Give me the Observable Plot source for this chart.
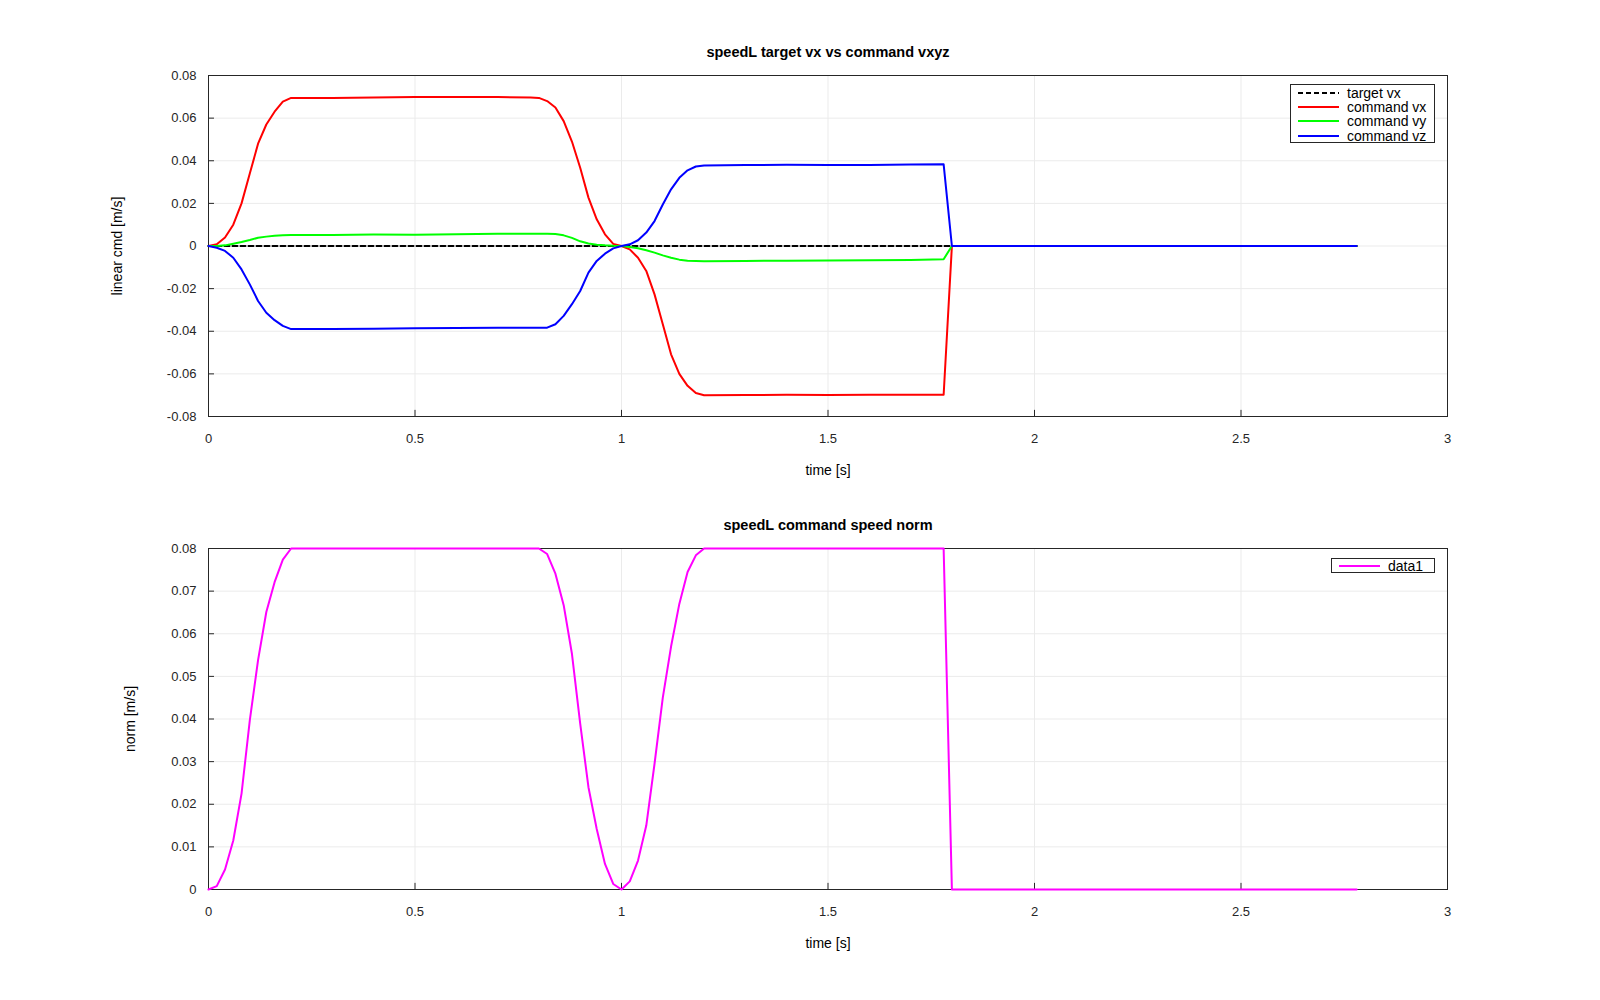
<!DOCTYPE html>
<html>
<head>
<meta charset="utf-8">
<script src="https://cdn.jsdelivr.net/npm/d3@7"></script>
<script src="https://cdn.jsdelivr.net/npm/@observablehq/plot@0.6"></script>
<style>
  body { margin: 0; background: #fff; }
  #root { position: relative; width: 1600px; height: 1000px; background: #fff; font-family: "Liberation Sans", Arial, sans-serif; overflow: hidden; }
  #root svg.panel { position: absolute; left: 0; }
  .legend { position: absolute; border: 1px solid #262626; background: #fff; font-size: 14px; color: #000; box-sizing: border-box; padding: 1px 0; }
  .legend .row { display: flex; align-items: center; height: 14.2px; padding-left: 7px; }
  .legend .row svg { width: 41px; height: 14px; margin-right: 8px; flex: none; }
  .legend .row span { line-height: 14px; white-space: nowrap; }
</style>
</head>
<body>
<div id="root"></div>
<script>
// ---- data ----
const time = [
  0, 0.02, 0.04, 0.06, 0.08, 0.10, 0.12, 0.14, 0.16, 0.18, 0.20,
  0.30, 0.40, 0.50, 0.60, 0.70, 0.78,
  0.80, 0.82, 0.84, 0.86, 0.88, 0.90, 0.92, 0.94, 0.96, 0.98, 1.00,
  1.02, 1.04, 1.06, 1.08, 1.10, 1.12, 1.14, 1.16, 1.18, 1.20,
  1.30, 1.40, 1.50, 1.60, 1.70, 1.78,
  1.80, 2.78
];
const targetTime = [0, 2.78];
const targetVx = [0, 0];
const commandVx = [
  0, 0.0008, 0.004, 0.010, 0.020, 0.034, 0.048, 0.057, 0.063, 0.0677, 0.0695,
  0.0695, 0.0697, 0.0699, 0.0699, 0.0699, 0.0697,
  0.0695, 0.068, 0.065, 0.0586, 0.049, 0.0367, 0.0227, 0.0125, 0.0055, 0.001, 0,
  -0.0016, -0.0055, -0.0117, -0.0227, -0.0367, -0.0508, -0.060, -0.0656, -0.069, -0.0700,
  -0.0699, -0.0698, -0.0699, -0.0698, -0.0698, -0.0698,
  0, 0
];
const commandVy = [
  0, 0, 0.0003, 0.0011, 0.0019, 0.0028, 0.0039, 0.0044, 0.0048, 0.0050, 0.0052,
  0.0052, 0.0054, 0.0053, 0.0055, 0.0057, 0.0058,
  0.0058, 0.0058, 0.0056, 0.0050, 0.0038, 0.0022, 0.0012, 0.0006, 0.0003, 0.0001, 0,
  -0.0005, -0.0011, -0.0020, -0.0031, -0.0044, -0.0055, -0.0064, -0.0069, -0.0070, -0.0072,
  -0.0070, -0.0069, -0.0068, -0.0067, -0.0066, -0.0062,
  0, 0
];
const commandVz = [
  0, -0.0008, -0.0023, -0.0055, -0.011, -0.018, -0.0258, -0.0313, -0.0348, -0.0375, -0.0390,
  -0.0389, -0.0388, -0.0386, -0.0385, -0.0384, -0.0384,
  -0.0383, -0.0383, -0.0367, -0.0328, -0.0273, -0.0211, -0.0125, -0.0070, -0.0036, -0.0011, 0,
  0.0008, 0.0027, 0.0063, 0.0117, 0.0195, 0.0266, 0.0320, 0.0355, 0.0373, 0.0378,
  0.0380, 0.0381, 0.0380, 0.0380, 0.0382, 0.0383,
  0, 0
];
const speedNorm = [
  0, 0.0008, 0.0047, 0.0115, 0.0225, 0.0397, 0.0538, 0.0651, 0.0721, 0.0774, 0.0800,
  0.0800, 0.0800, 0.0800, 0.0800, 0.0800, 0.0800,
  0.0800, 0.0787, 0.0741, 0.0667, 0.0553, 0.0389, 0.0240, 0.0142, 0.0060, 0.0013, 0,
  0.0019, 0.0068, 0.0150, 0.0295, 0.0450, 0.0570, 0.0670, 0.0745, 0.0784, 0.0800,
  0.0800, 0.0800, 0.0800, 0.0800, 0.0800, 0.0800,
  0, 0
];
const xTicks = [0, 0.5, 1, 1.5, 2, 2.5, 3];
const yTicks1 = [-0.08, -0.06, -0.04, -0.02, 0, 0.02, 0.04, 0.06, 0.08];
const yTicks2 = [0, 0.01, 0.02, 0.03, 0.04, 0.05, 0.06, 0.07, 0.08];
const legend1 = ["target vx", "command vx", "command vy", "command vz"];
const legend2 = ["data1"];

const fmt = d => String(d);

function toRows(xs, ys) { return xs.map((x, i) => ({x, y: ys[i]})); }

function panel({series, yDomain, yTicks, title, ylabel, ylabelDx, height, marginTop, marginBottom}) {
  const span = yDomain[1] - yDomain[0];
  const marks = [
    Plot.ruleX(xTicks, {stroke: "#ebebeb", strokeWidth: 1}),
    Plot.ruleY(yTicks, {stroke: "#ebebeb", strokeWidth: 1}),
    Plot.frame({stroke: "#262626", strokeWidth: 1}),
    Plot.ruleX(xTicks, {y1: yDomain[0], y2: yDomain[0] + span * 0.018, stroke: "#262626"}),
    Plot.ruleY(yTicks, {x1: 0, x2: 0.0145, stroke: "#262626"}),
    Plot.axisX(xTicks, {tickSize: 0, tickPadding: 17, tickFormat: fmt, fill: "#262626", fontSize: 13, label: null}),
    Plot.axisY(yTicks, {tickSize: 0, tickPadding: 12, tickFormat: fmt, fill: "#262626", fontSize: 13, label: null}),
  ];
  for (const s of series) {
    marks.push(Plot.line(toRows(s.x, s.y), {x: "x", y: "y", stroke: s.color, strokeWidth: 2, strokeDasharray: s.dash || null}));
  }
  marks.push(
    Plot.text([title], {frameAnchor: "top", dy: -29, fontWeight: "bold", fontSize: 14.5, fill: "#000"}),
    Plot.text(["time [s]"], {frameAnchor: "bottom", dy: 58, fontSize: 14, fill: "#000"}),
    Plot.text([ylabel], {frameAnchor: "left", textAnchor: "middle", dx: ylabelDx, rotate: -90, fontSize: 14, fill: "#000"})
  );
  const svg = Plot.plot({
    width: 1600, height, marginLeft: 208, marginRight: 153, marginTop, marginBottom,
    style: {fontFamily: '"Liberation Sans", Arial, sans-serif', fontSize: "13px", color: "#262626", background: "white", overflow: "visible"},
    x: {domain: [0, 3], ticks: xTicks, tickFormat: fmt, label: null},
    y: {domain: yDomain, ticks: yTicks, tickFormat: fmt, label: null},
    marks
  });
  svg.classList.add("panel");
  return svg;
}

function makeLegend(entries, styles, css) {
  const div = document.createElement("div");
  div.className = "legend";
  Object.assign(div.style, css);
  entries.forEach((name, i) => {
    const row = document.createElement("div");
    row.className = "row";
    const st = styles[i];
    row.innerHTML = `<svg viewBox="0 0 41 14"><line x1="0" x2="41" y1="7" y2="7" stroke="${st.color}" stroke-width="2" ${st.dash ? `stroke-dasharray="${st.dash}"` : ""}/></svg><span>${name}</span>`;
    div.appendChild(row);
  });
  return div;
}

const root = document.getElementById("root");

const colors1 = ["#000000", "#ff0000", "#00ff00", "#0000ff"];
const dashes1 = ["5,3", null, null, null];

const p1 = panel({
  series: [
    {x: targetTime, y: targetVx, color: colors1[0], dash: dashes1[0]},
    {x: time, y: commandVx, color: colors1[1]},
    {x: time, y: commandVy, color: colors1[2]},
    {x: time, y: commandVz, color: colors1[3]}
  ],
  yDomain: [-0.08, 0.08], yTicks: yTicks1,
  title: "speedL target vx vs command vxyz", ylabel: "linear cmd [m/s]", ylabelDx: -91,
  height: 490, marginTop: 75, marginBottom: 74
});
p1.style.top = "0px";
root.appendChild(p1);

const p2 = panel({
  series: [{x: time, y: speedNorm, color: "#ff00ff"}],
  yDomain: [0, 0.08], yTicks: yTicks2,
  title: "speedL command speed norm", ylabel: "norm [m/s]", ylabelDx: -78,
  height: 510, marginTop: 58, marginBottom: 111
});
p2.style.top = "490px";
root.appendChild(p2);

root.appendChild(makeLegend(legend1, colors1.map((c, i) => ({color: c, dash: dashes1[i]})),
  {left: "1290px", top: "84px", width: "145px", height: "59px"}));
root.appendChild(makeLegend(legend2, [{color: "#ff00ff"}],
  {left: "1331px", top: "558px", width: "104px", height: "15px", padding: "0"}));
</script>
</body>
</html>
